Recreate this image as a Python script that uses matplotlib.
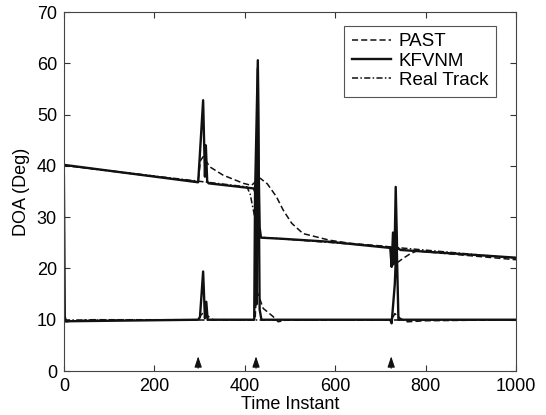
import matplotlib
matplotlib.use("Agg")
import matplotlib.pyplot as plt

plt.rcParams["font.family"] = ["Liberation Sans", "DejaVu Sans"]

# Real track (dash-dot): two sources
real_up_t = [0, 405, 412, 420, 426, 432, 720, 1000]
real_up_y = [40.1, 35.9, 34.5, 31.0, 28.0, 26.1, 24.2, 22.0]
real_lo_t = [0, 1000]
real_lo_y = [10.0, 10.0]

# PAST (dashed)
past_up_t = [0, 297, 302, 308, 323, 352, 397, 415, 425, 434, 450, 470, 485, 504,
             529, 588, 633, 700, 722, 729, 740, 751, 765, 780, 1000]
past_up_y = [40.1, 36.9, 41.0, 41.8, 39.8, 38.2, 36.6, 36.2, 37.0, 37.6, 36.5, 34.0,
             31.4, 28.8, 26.8, 25.5, 24.9, 24.4, 24.2, 20.7, 21.3, 22.0, 22.8, 23.4, 21.7]
past_lo_t = [0, 3, 60, 297, 302, 310, 320, 330, 423, 426, 441, 463, 474, 490,
             725, 732, 745, 760, 800, 1000]
past_lo_y = [10.0, 9.6, 10.0, 10.0, 10.8, 11.5, 10.6, 10.0, 10.0, 15.8, 12.2, 10.6,
             9.6, 9.9, 10.0, 11.2, 10.2, 9.6, 9.8, 10.0]

# KFVNM (solid)
kf_up_t = [0, 297, 300, 308, 312, 314, 317, 320, 420, 423, 429, 431, 433, 436, 480,
           588, 722, 725, 728, 731, 734, 737, 745, 1000]
kf_up_y = [40.2, 36.8, 41.0, 52.8, 37.9, 44.0, 37.0, 36.6, 35.6, 35.0, 60.6, 39.0,
           28.0, 26.0, 25.8, 25.2, 24.0, 20.3, 27.0, 21.0, 35.9, 24.0, 23.6, 22.1]
kf_lo_t = [0, 2, 5, 297, 301, 308, 312, 315, 318, 322, 421, 423, 426, 429, 433, 437,
           722, 725, 732, 736, 740, 745, 1000]
kf_lo_y = [38.0, 10.5, 9.7, 10.0, 10.5, 19.4, 10.3, 13.5, 10.0, 10.0, 10.0, 36.0,
           13.0, 59.0, 12.0, 10.0, 10.0, 9.3, 17.0, 25.5, 10.0, 10.0, 10.0]

# change instants marked with arrows
change_t = [297, 425, 724]

fig = plt.figure(figsize=(5.46, 4.15), dpi=100)
ax = fig.add_axes([0.117, 0.106, 0.828, 0.865])

ax.plot(past_up_t, past_up_y, color="#111111", lw=1.1, ls=(0, (4, 2)), label="PAST")
ax.plot(past_lo_t, past_lo_y, color="#111111", lw=1.1, ls=(0, (4, 2)))
ax.plot(kf_up_t, kf_up_y, color="#111111", lw=1.7, label="KFVNM")
ax.plot(kf_lo_t, kf_lo_y, color="#111111", lw=1.7)
ax.plot(real_up_t, real_up_y, color="#111111", lw=1.1, ls=(0, (4, 1.5, 1, 1.5)),
        label="Real Track")
ax.plot(real_lo_t, real_lo_y, color="#111111", lw=1.1, ls=(0, (4, 1.5, 1, 1.5)))

for t in change_t:
    ax.annotate("", xy=(t, 3.4), xytext=(t, 0),
                arrowprops=dict(arrowstyle="-|>,head_width=0.22,head_length=0.65",
                                color="#111111", lw=0.8))

ax.set_xlim(0, 1000)
ax.set_ylim(0, 70)
ax.set_xticks(range(0, 1001, 200))
ax.set_yticks(range(0, 71, 10))
ax.tick_params(direction="in", top=True, right=True, labelsize=13, length=4,
               color="#333333", pad=5)
for s in ax.spines.values():
    s.set_color("#444444")
    s.set_linewidth(0.8)

ax.set_xlabel("Time Instant", fontsize=13, labelpad=1)
ax.set_ylabel("DOA (Deg)", fontsize=13, labelpad=5)

leg = ax.legend(loc="upper right", bbox_to_anchor=(0.955, 0.962), borderaxespad=0,
                fontsize=13.5, handlelength=2.1, handletextpad=0.4, borderpad=0.4,
                labelspacing=0.12, fancybox=False, framealpha=1)
leg.get_frame().set_edgecolor("#555555")
leg.get_frame().set_linewidth(0.8)

fig.savefig("out.png", dpi=100)
